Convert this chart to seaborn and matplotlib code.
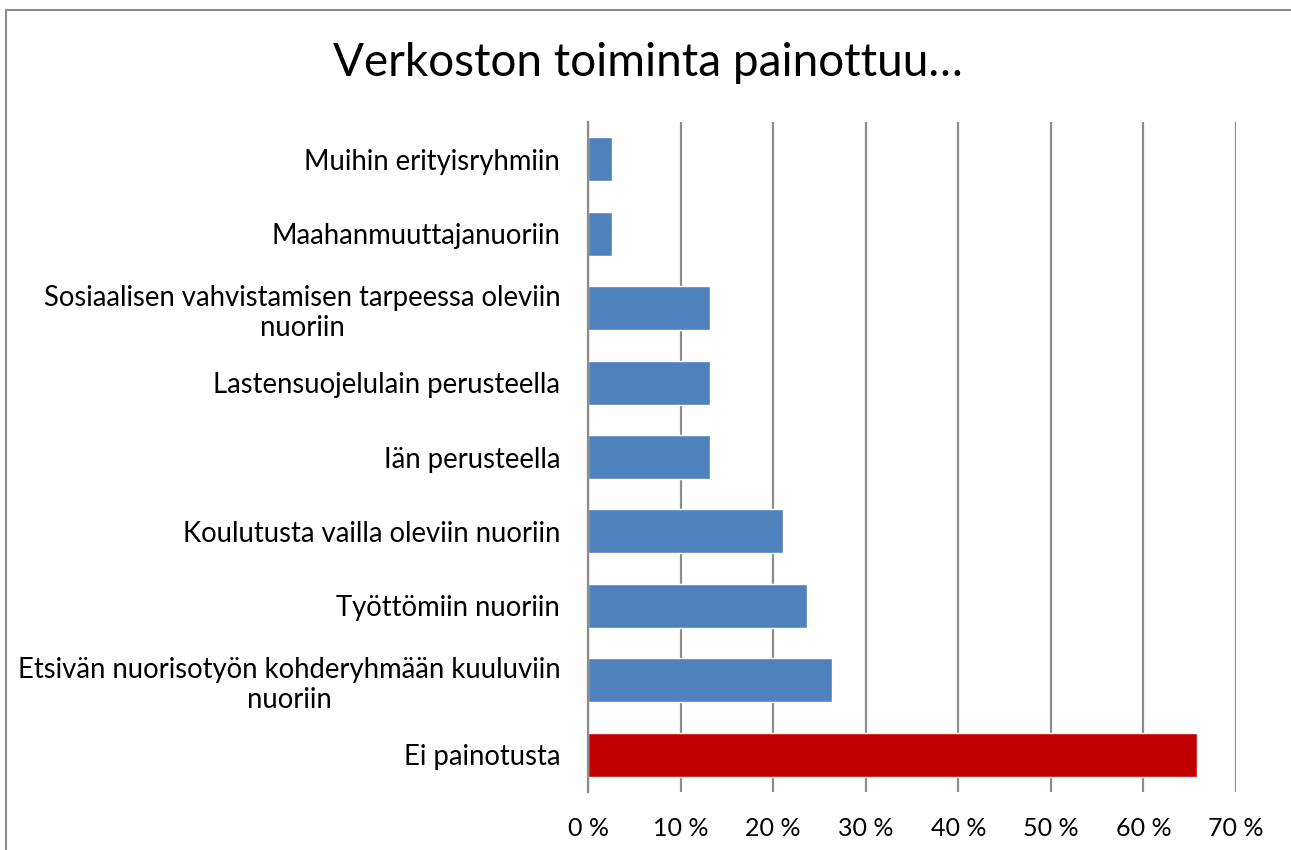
import matplotlib
matplotlib.use("Agg")
import matplotlib.pyplot as plt
import seaborn as sns
import pandas as pd
from matplotlib.patches import Rectangle

categories = [
    "Muihin erityisryhmiin",
    "Maahanmuuttajanuoriin",
    "Sosiaalisen vahvistamisen tarpeessa oleviin\nnuoriin",
    "Lastensuojelulain perusteella",
    "Iän perusteella",
    "Koulutusta vailla oleviin nuoriin",
    "Työttömiin nuoriin",
    "Etsivän nuorisotyön kohderyhmään kuuluviin\nnuoriin",
    "Ei painotusta",
]
values = [2.63, 2.63, 13.16, 13.16, 13.16, 21.05, 23.68, 26.32, 65.79]
groups = ["a", "a", "a", "a", "a", "a", "a", "a", "b"]
tick_values = [0, 10, 20, 30, 40, 50, 60, 70]
tick_labels = ["0 %", "10 %", "20 %", "30 %", "40 %", "50 %", "60 %", "70 %"]
title = "Verkoston toiminta painottuu…"

df = pd.DataFrame({"cat": categories, "val": values, "grp": groups})

sns.set_theme(style="white")
plt.rcParams["font.family"] = ["Lato", "DejaVu Sans"]

W, H = 1291, 850
fig = plt.figure(figsize=(W / 100, H / 100), dpi=100)
ax = fig.add_axes([588 / W, (H - 792) / H, (1236 - 588) / W, (792 - 122) / H])

sns.barplot(data=df, y="cat", x="val", hue="grp", orient="h", dodge=False,
            palette={"a": "#4F81BD", "b": "#C00000"}, width=0.59,
            legend=False, ax=ax, saturation=1)

ax.set_xlim(0, 70)
ax.set_ylim(8.5, -0.5)
ax.set_xticks(tick_values)
ax.set_xticklabels(tick_labels, fontsize=18, color="#000000")
ax.set_xlabel("")
ax.set_ylabel("")
ax.grid(axis="x", color="#8C8C8C", linewidth=1.6)
ax.grid(axis="y", visible=False)
ax.set_axisbelow(True)
for s in ["top", "right", "bottom"]:
    ax.spines[s].set_visible(False)
ax.spines["left"].set_color("#8C8C8C")
ax.spines["left"].set_linewidth(1.6)
ax.tick_params(axis="x", length=0, pad=18)
ax.tick_params(axis="y", length=0, pad=20)
for lbl in ax.get_yticklabels():
    lbl.set_fontsize(19.8)
    lbl.set_multialignment("center")
    lbl.set_linespacing(1.2)
    lbl.set_color("#000000")

fig.text(648 / W, 1 - 63 / H, title, ha="center", va="center", fontsize=33, color="#000000")

border = Rectangle((6 / W, -0.1), 1.2, 1 - 10 / H + 0.1, transform=fig.transFigure,
                   fill=False, edgecolor="#8C8C8C", linewidth=1.5)
fig.patches.append(border)

fig.savefig("out.png", dpi=100)
